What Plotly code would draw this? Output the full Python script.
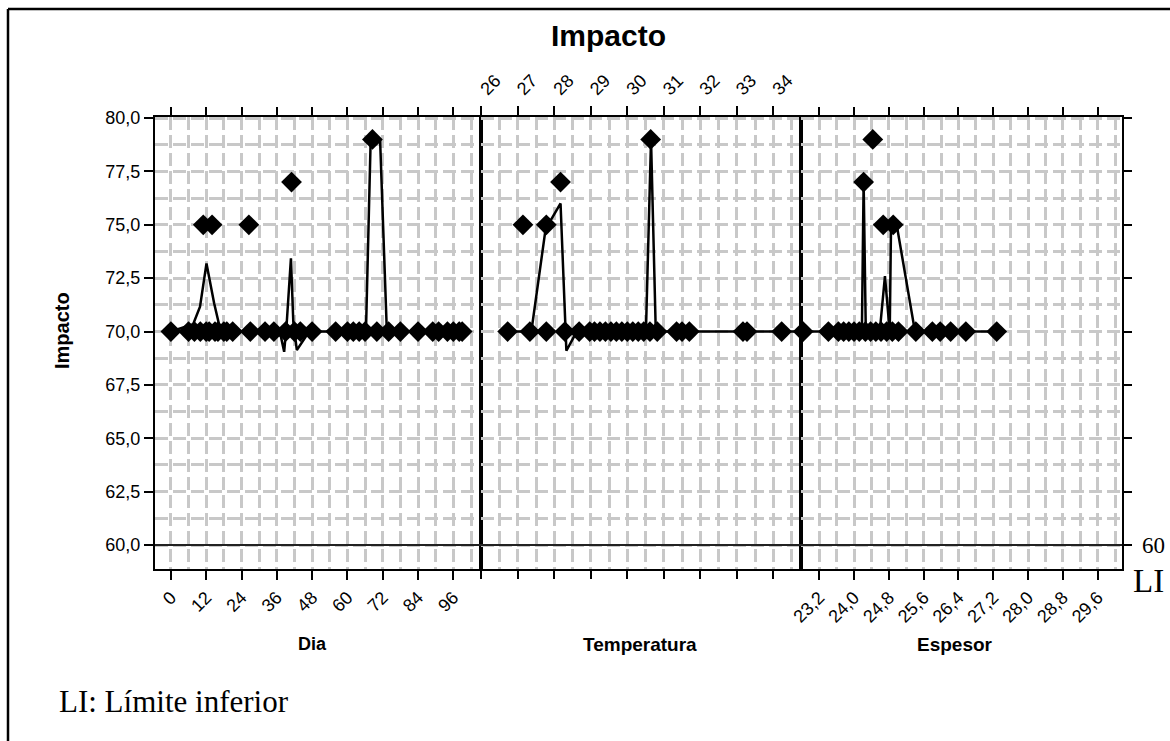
import plotly.graph_objects as go

W, H = 1170, 741

# ---------------- data ----------------
LI = 60  # límite inferior

# Panel 1: Dia
dia_x_70 = [0, 6, 8, 10, 12, 13, 15, 16, 18, 19, 21, 27, 32, 35, 39, 42, 44, 48,
            56, 60, 62, 64, 66, 70, 74, 78, 84, 89, 91, 94, 96, 98, 99]
dia_x_75 = [11, 14, 26.5]
dia_x_77 = [41]
dia_x_79 = [68.5]
dia_line_x = [0, 7.6, 9.9, 12.1, 14.7, 16.3, 18, 36, 37.4, 38.5, 39.4, 40.8, 41.6,
              42.8, 46.2, 48, 66.3, 67.9, 71.1, 73.4, 99]
dia_line_y = [70, 70.35, 71.16, 73.19, 71.32, 70.38, 70, 70, 69.76, 69.05, 70.46, 73.43,
              70.46, 69.13, 69.84, 70, 70, 79, 79, 70, 70]

# Panel 2: Temperatura
tem_x_70 = [26.72, 27.33, 27.78, 28.29, 28.68, 28.97, 29.1, 29.25, 29.4, 29.55, 29.7,
            29.85, 30.0, 30.15, 30.3, 30.45, 30.62, 30.82, 31.35, 31.5, 31.7, 33.17,
            33.28, 34.23]
tem_x_75 = [27.14, 27.78]
tem_x_77 = [28.17]
tem_x_79 = [30.64]
tem_line_x = [26.72, 27.37, 27.76, 28.17, 28.33, 28.55, 28.7, 30.51, 30.65, 30.78, 34.76]
tem_line_y = [70, 70, 74.8, 76, 69.1, 69.8, 70, 70, 79, 70, 70]

# Panel 3: Espesor
esp_x_70 = [22.83, 23.41, 23.64, 23.76, 23.88, 24.0, 24.12, 24.26, 24.38, 24.5, 24.62,
            24.75, 24.88, 25.02, 25.42, 25.8, 25.98, 26.22, 26.57, 27.28]
esp_x_75 = [24.67, 24.9]
esp_x_77 = [24.22]
esp_x_79 = [24.43]
esp_line_x = [22.83, 24.18, 24.22, 24.27, 24.59, 24.71, 24.82, 24.85, 24.98, 25.4, 27.28]
esp_line_y = [70, 70, 77, 70, 70, 72.6, 70, 75, 75, 70, 70]

dia_ticks = [0, 12, 24, 36, 48, 60, 72, 84, 96]
tem_ticks = [26, 27, 28, 29, 30, 31, 32, 33, 34]
esp_ticks = [23.2, 24.0, 24.8, 25.6, 26.4, 27.2, 28.0, 28.8, 29.6]

# ---------------- helpers (layout positions) ----------------
def px(x):
    return x / W

def py(y):
    return 1 - y / H

X1 = [px(155), px(481)]
X2 = [px(481), px(801)]
X3 = [px(801), px(1122)]
YD = [py(569), py(117)]

R1 = [-5.4, 105.4]
R2 = [25.99, 34.76]
R3 = [22.78, 30.16]
RY = [58.876, 80.05]

SANS = "Arial, Liberation Sans, sans-serif"
SERIF = "Times New Roman, Liberation Serif, serif"
GRID = "#c8c8c8"

fig = go.Figure()

def add_panel(xa, ya, x70, x75, x77, x79, lx, ly):
    fig.add_trace(go.Scatter(x=lx, y=ly, mode="lines", xaxis=xa, yaxis=ya,
                             line=dict(color="black", width=2.5), showlegend=False,
                             hoverinfo="skip"))
    xs = list(x70) + list(x75) + list(x77) + list(x79)
    ys = [70] * len(x70) + [75] * len(x75) + [77] * len(x77) + [79] * len(x79)
    fig.add_trace(go.Scatter(x=xs, y=ys, mode="markers", xaxis=xa, yaxis=ya,
                             marker=dict(symbol="diamond", size=16, color="black"),
                             cliponaxis=False, showlegend=False))

add_panel("x", "y", dia_x_70, dia_x_75, dia_x_77, dia_x_79, dia_line_x, dia_line_y)
add_panel("x2", "y2", tem_x_70, tem_x_75, tem_x_77, tem_x_79, tem_line_x, tem_line_y)
add_panel("x3", "y3", esp_x_70, esp_x_75, esp_x_77, esp_x_79, esp_line_x, esp_line_y)

tickfont = dict(family=SANS, size=18, color="black")

def grid_x(dtick_minor):
    return dict(showgrid=True, gridcolor=GRID, gridwidth=3, griddash="13px,5px",
                minor=dict(dtick=dtick_minor, showgrid=True, gridcolor=GRID,
                           gridwidth=3, griddash="13px,5px", ticks=""))

common_x = dict(showline=True, linecolor="black", linewidth=2, mirror=True,
                ticks="outside", ticklen=9, tickwidth=2, tickcolor="black",
                zeroline=False, tickangle=-45, tickfont=tickfont, automargin=False)

tick_only = dict(showline=False, showgrid=False, zeroline=False, showticklabels=False,
                 ticks="outside", ticklen=9, tickwidth=2, tickcolor="black",
                 automargin=False)

common_y = dict(domain=YD, range=RY, tick0=60, dtick=2.5, showline=True,
                linecolor="black", linewidth=2, mirror=True, zeroline=False,
                showgrid=True, gridcolor=GRID, gridwidth=3, griddash="13px,5px",
                automargin=False,
                minor=dict(dtick=1.25, showgrid=True, gridcolor=GRID, gridwidth=3,
                           griddash="13px,5px", ticks=""))

fig.update_layout(
    width=W, height=H, autosize=False,
    margin=dict(l=0, r=0, t=0, b=0, pad=0, autoexpand=False),
    paper_bgcolor="white", plot_bgcolor="white",
    separators=",.",
    showlegend=False,
    xaxis=dict(domain=X1, range=R1, anchor="y", side="bottom", tickmode="array",
               tickvals=dia_ticks, ticktext=[str(v) for v in dia_ticks],
               **common_x, **grid_x(6)),
    xaxis2=dict(domain=X2, range=R2, anchor="y2", side="top", tickmode="array",
                tickvals=tem_ticks, ticktext=[str(v) for v in tem_ticks],
                **common_x, **grid_x(0.5)),
    xaxis3=dict(domain=X3, range=R3, anchor="y3", side="bottom", tickmode="array",
                tickvals=esp_ticks, ticktext=[f"{v:.1f}".replace(".", ",") for v in esp_ticks],
                **common_x, **grid_x(0.4)),
    xaxis4=dict(overlaying="x", anchor="y", side="top", range=R1, tickmode="array",
                tickvals=dia_ticks, **tick_only),
    xaxis5=dict(overlaying="x2", anchor="y2", side="bottom", range=R2, tickmode="array",
                tickvals=tem_ticks, **tick_only),
    xaxis6=dict(overlaying="x3", anchor="y3", side="top", range=R3, tickmode="array",
                tickvals=esp_ticks, **tick_only),
    yaxis=dict(anchor="x", ticks="outside", ticklen=9, tickwidth=2, tickcolor="black",
               tickformat=".1f", tickfont=dict(family=SANS, size=18, color="black"),
               **common_y),
    yaxis2=dict(anchor="x2", ticks="", showticklabels=False, **common_y),
    yaxis3=dict(anchor="x3", ticks="", showticklabels=False, **common_y),
    yaxis4=dict(overlaying="y3", anchor="x3", side="right", range=RY, tick0=60, dtick=2.5,
                **tick_only),
)

# invisible traces so overlay axes get drawn
for xa, ya, rx in [("x4", "y", R1), ("x5", "y2", R2), ("x6", "y3", R3)]:
    fig.add_trace(go.Scatter(x=rx, y=[None, None], xaxis=xa, yaxis=ya, mode="lines",
                             showlegend=False, hoverinfo="skip"))
fig.add_trace(go.Scatter(x=R3, y=[None, None], xaxis="x3", yaxis="y4", mode="lines",
                         showlegend=False, hoverinfo="skip"))

# LI reference line across all panels
fig.add_shape(type="line", xref="paper", yref="y", x0=X1[0], x1=X3[1], y0=LI, y1=LI,
              line=dict(color="#222222", width=1.8))

# outer frame (left + top edges)
fig.add_shape(type="line", xref="paper", yref="paper", x0=px(8), x1=1.0, y0=py(9), y1=py(9),
              line=dict(color="black", width=2.5))
fig.add_shape(type="line", xref="paper", yref="paper", x0=px(8), x1=px(8), y0=py(9), y1=0,
              line=dict(color="black", width=2.5))

def ann(text, x, y, size, family=SANS, bold=False, angle=0, xanchor="center"):
    t = f"<b>{text}</b>" if bold else text
    fig.add_annotation(text=t, x=px(x), y=py(y), xref="paper", yref="paper",
                       showarrow=False, xanchor=xanchor, yanchor="middle", textangle=angle,
                       font=dict(family=family, size=size, color="black"))

ann("Impacto", 608, 35, 30, bold=True)
ann("Impacto", 62, 331, 20, bold=True, angle=-90)
ann("Dia", 312, 644, 18, bold=True)
ann("Temperatura", 640, 644, 19, bold=True)
ann("Espesor", 955, 644, 19, bold=True)
ann(str(LI), 1153, 545, 23, family=SERIF)
ann("LI", 1148, 581, 33, family=SERIF)
ann("LI: Límite inferior", 57, 701, 31, family=SERIF, xanchor="left")

fig.write_html(
    "out.html",
    config={"displayModeBar": False},
    post_script="document.body.style.margin='0';document.body.style.padding='0';"
                "document.body.style.overflow='hidden';"
                "document.documentElement.style.overflow='hidden';",
)
